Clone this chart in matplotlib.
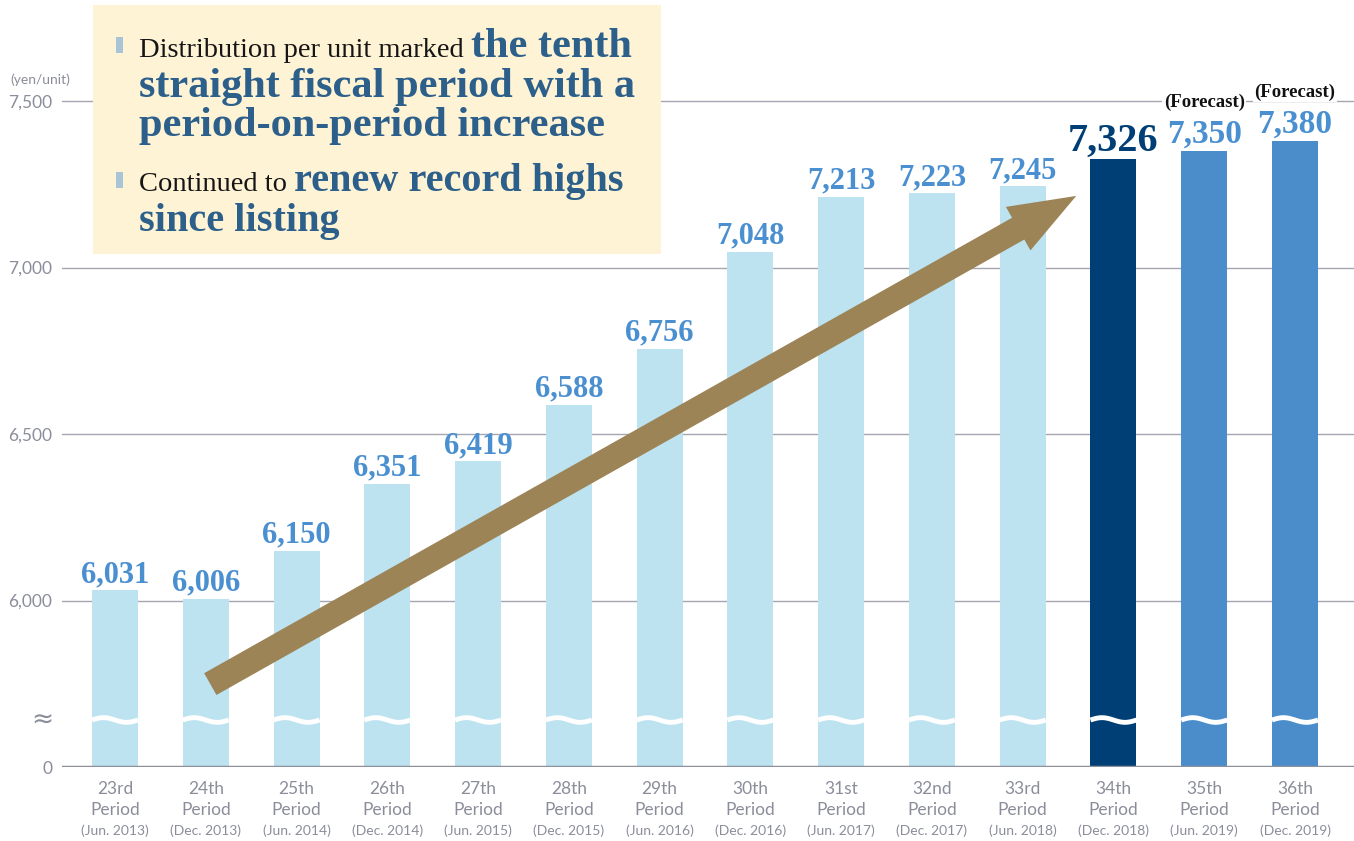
import numpy as np
import matplotlib.pyplot as plt
from matplotlib.patches import Rectangle

# data
periods = ['23rd', '24th', '25th', '26th', '27th', '28th', '29th',
           '30th', '31st', '32nd', '33rd', '34th', '35th', '36th']
dates = ['(Jun. 2013)', '(Dec. 2013)', '(Jun. 2014)', '(Dec. 2014)',
         '(Jun. 2015)', '(Dec. 2015)', '(Jun. 2016)', '(Dec. 2016)',
         '(Jun. 2017)', '(Dec. 2017)', '(Jun. 2018)', '(Dec. 2018)',
         '(Jun. 2019)', '(Dec. 2019)']
dpu = [6031, 6006, 6150, 6351, 6419, 6588, 6756, 7048, 7213, 7223, 7245,
       7326, 7350, 7380]
kinds = ['actual'] * 11 + ['latest'] + ['forecast'] * 2
yticks = [5500, 6000, 6500, 7000, 7500]
ytick_labels = ['0', '6,000', '6,500', '7,000', '7,500']

bar_col = {'actual': '#bde3f1', 'latest': '#003f75', 'forecast': '#4b8dcb'}
lab_col = {'actual': '#4a8fd0', 'latest': '#003f75', 'forecast': '#4a8fd0'}
lab_size = {'actual': 22, 'latest': 29, 'forecast': 24}
gray = '#8b8e9a'
sans = 'Lato'
serif = 'Liberation Serif'

W, H = 1354, 841
fig = plt.figure(figsize=(W / 100, H / 100), dpi=100)
ax = fig.add_axes([62 / W, (H - 767) / H, (W - 62) / W, 767 / H])
base = yticks[0]
ax.set_ylim(base, base + 767 * 2000 / 666)
ax.set_xlim(-0.584, 13.65)
for s in ax.spines.values():
    s.set_visible(False)

x = np.arange(len(dpu))
bw = 0.507
ax.bar(x, np.array(dpu) - base, bottom=base, width=bw,
       color=[bar_col[k] for k in kinds], zorder=2)

for v in yticks[1:]:
    ax.axhline(v, color='#a5a6b2', lw=1, zorder=1)
ax.axhline(base, color='#8e919c', lw=2.5, zorder=3)

ax.set_xticks([])
ax.set_yticks(yticks)
ax.set_yticklabels(ytick_labels, fontfamily=sans, fontsize=12.5, color=gray)
ax.tick_params(axis='y', length=0, pad=7)

# break marks
brk = base + 47 * 2000 / 666
t = np.linspace(0, 1, 60)
for i in x:
    ax.plot(i - bw / 2 + bw * t, brk + 7 * np.sin(2 * np.pi * t),
            color='white', lw=3.5, zorder=3, solid_capstyle='butt')
ax.annotate('≈', xy=(0, brk), xycoords=('axes fraction', 'data'),
            xytext=(-9, 0), textcoords='offset pixels', ha='right',
            va='center', fontsize=19, color=gray, fontfamily='DejaVu Sans')
fig.text(10 / W, 1 - 80 / H, '(yen/unit)', fontfamily=sans, fontsize=10,
         color=gray, va='center')

# category labels
for i, (p, d) in enumerate(zip(periods, dates)):
    ax.annotate(p, xy=(i, base), xytext=(0, -22), textcoords='offset pixels',
                ha='center', va='center', fontfamily=sans, fontsize=12.5,
                color=gray)
    ax.annotate('Period', xy=(i, base), xytext=(0, -43),
                textcoords='offset pixels', ha='center', va='center',
                fontfamily=sans, fontsize=12.5, color=gray)
    ax.annotate(d, xy=(i, base), xytext=(0, -64), textcoords='offset pixels',
                ha='center', va='center', fontfamily=sans, fontsize=10,
                color=gray)

# value labels
for i, (v, k) in enumerate(zip(dpu, kinds)):
    ax.annotate(f'{v:,}', xy=(i, v), xytext=(0, 8), textcoords='offset pixels',
                ha='center', va='baseline', fontfamily=serif,
                fontweight='bold', fontsize=lab_size[k], color=lab_col[k],
                zorder=6)
    if k == 'forecast':
        ax.annotate('(Forecast)', xy=(i, v), xytext=(0, 44),
                    textcoords='offset pixels', ha='center', va='baseline',
                    fontfamily=serif, fontweight='bold', fontsize=13.5,
                    color='#111111', zorder=6,
                    bbox=dict(fc='white', ec='none', pad=1))

# trend arrow
ax.annotate('', xy=(10.59, 7215), xytext=(1.05, 5749),
            arrowprops=dict(arrowstyle='simple,head_length=48,head_width=36,tail_width=18',
                            mutation_scale=1, fc='#9c8456', ec='none',
                            shrinkA=0, shrinkB=0), zorder=4)

# message box
ax.add_patch(Rectangle((31 / 1292, 1 - 254 / 767), 568 / 1292, 249 / 767,
                       transform=ax.transAxes, facecolor='#fff3d6',
                       edgecolor='none', zorder=5))

renderer = fig.canvas.get_renderer()
dark_blue = '#2c5f8a'


def line(y_px, parts, bold_size=30.5):
    xp = 139
    for s, bold in parts:
        if bold:
            txt = fig.text(xp / W, 1 - y_px / H, s, va='baseline',
                           fontfamily=serif, fontweight='bold',
                           fontsize=bold_size, color=dark_blue, zorder=7)
        else:
            txt = fig.text(xp / W, 1 - y_px / H, s, va='baseline',
                           fontfamily=serif, fontsize=20.5, color='#151515',
                           zorder=7)
        xp = txt.get_window_extent(renderer).x1 + 7


line(57, [('Distribution per unit marked', False), ('the tenth', True)])
line(97, [('straight fiscal period with a', True)])
line(136, [('period-on-period increase', True)])
line(191, [('Continued to', False), ('renew record highs', True)], 29)
line(231, [('since listing', True)], 29)
for yb in (37, 172):
    fig.add_artist(Rectangle((116 / W, 1 - (yb + 16) / H), 7 / W, 16 / H,
                             transform=fig.transFigure, facecolor='#a9c4d6',
                             edgecolor='none', zorder=7))

fig.savefig('out.png', dpi=100)
